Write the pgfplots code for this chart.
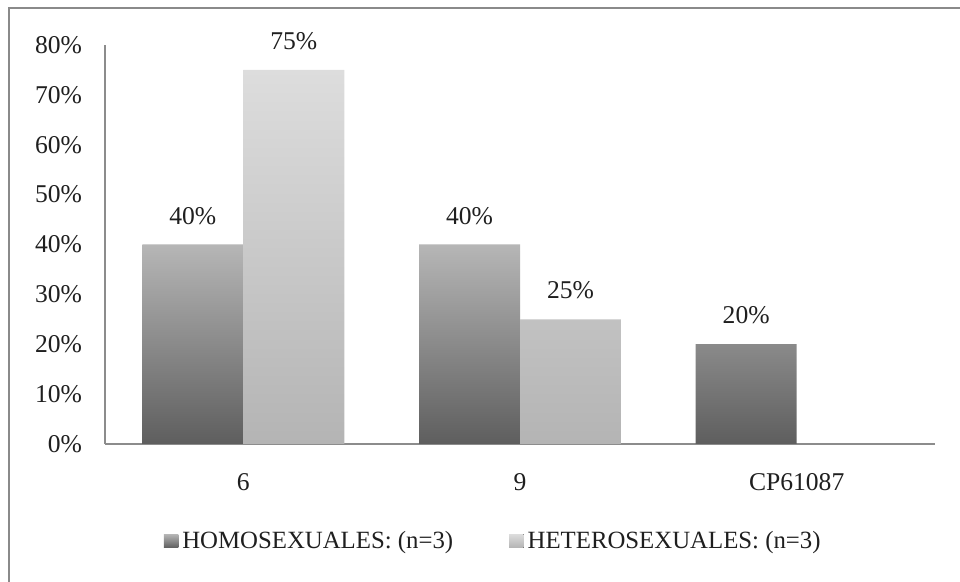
\documentclass[border=0pt]{standalone}
\usepackage{pgfplots}
\pgfplotsset{compat=1.18}
\usepackage{fontspec}
\setmainfont{Liberation Serif}
\definecolor{framegray}{HTML}{8A8A8A}
\definecolor{axgray}{HTML}{8C8C8C}
\definecolor{homobot}{HTML}{5E5E5E}
\definecolor{homotop}{HTML}{B6B6B6}
\definecolor{hetbot}{HTML}{B4B4B4}
\definecolor{hettop}{HTML}{DDDDDD}
\begin{document}
\begin{tikzpicture}
\path[use as bounding box] (0pt,0pt) rectangle (480pt,291pt);
\begin{scope}
\clip (0pt,0pt) rectangle (480pt,291pt);
\draw[framegray, line width=1.1pt] (4.5pt,-10pt) -- (4.5pt,287pt) -- (490pt,287pt);
\end{scope}
\begin{axis}[
  at={(52.5pt,69pt)}, anchor=south west,
  scale only axis, width=415pt, height=199.5pt,
  xmin=-0.5, xmax=2.5, ymin=0, ymax=80,
  axis x line=bottom, axis y line=left,
  axis line style={axgray, line width=0.9pt, -},
  major tick length=0pt,
  xtick={0,1,2}, xticklabels={6,9,CP61087},
  ytick={0,10,...,80},
  yticklabel={\pgfmathprintnumber{\tick}\%},
  /pgf/number format/assume math mode=true,
  ticklabel style={font=\fontsize{12.8}{15}\selectfont, text=black!88},
  xticklabel style={yshift=-11pt},
  yticklabel style={xshift=-8pt},
  ybar, bar width=0.365,
  clip=false,
  nodes near coords={\pgfmathprintnumber{\pgfplotspointmeta}\%},
  nodes near coords style={font=\fontsize{12.8}{15}\selectfont, text=black!88, anchor=south, yshift=6.5pt},
  every axis plot/.append style={draw=none},
  legend style={at={(0.469,-0.243)}, anchor=center, draw=none, fill=none,
    legend columns=2, font=\fontsize{12.4}{15}\selectfont, text=black!88,
    /tikz/every even column/.append style={column sep=26pt}},
]
\addplot[bar shift=-0.1825, top color=homotop, bottom color=homobot, draw=none,
  legend image code/.code={\fill[top color=homotop, bottom color=homobot] (0pt,-3.4pt) rectangle (7.2pt,3.4pt);}]
  coordinates {(0,40) (1,40) (2,20)};
\addlegendentry{HOMOSEXUALES: (n=3)}
\addplot[bar shift=0.1825, top color=hettop, bottom color=hetbot, draw=none,
  legend image code/.code={\fill[top color=hettop, bottom color=hetbot] (0pt,-3.4pt) rectangle (7.2pt,3.4pt);}]
  coordinates {(0,75) (1,25)};
\addlegendentry{HETEROSEXUALES: (n=3)}
\end{axis}
\end{tikzpicture}
\end{document}
